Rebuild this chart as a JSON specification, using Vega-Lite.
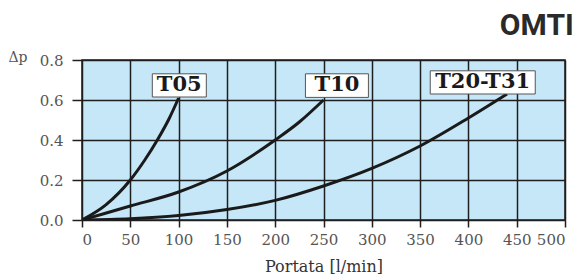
{
  "$schema": "https://vega.github.io/schema/vega-lite/v6.json",
  "width": 483,
  "height": 160,
  "autosize": {"type": "none"},
  "padding": {"left": 82, "top": 60, "right": 19, "bottom": 55},
  "background": "white",
  "title": {
    "text": "OMTI",
    "anchor": "end",
    "orient": "top",
    "font": "Roboto",
    "fontSize": 30,
    "fontWeight": "bold",
    "color": "#2a2a2a",
    "dx": 8,
    "offset": 9
  },
  "config": {
    "view": {"fill": "#c6e7f7", "stroke": "#1e1e1e", "strokeWidth": 1.5},
    "axis": {
      "gridColor": "#1e1e1e",
      "gridWidth": 1.5,
      "gridOpacity": 1,
      "domainColor": "#1e1e1e",
      "domainWidth": 1.5,
      "tickColor": "#1e1e1e",
      "tickWidth": 1.5,
      "labelFont": "DejaVu Serif",
      "labelFontSize": 15,
      "labelColor": "#555555",
      "titleFont": "DejaVu Serif",
      "titleFontWeight": "normal",
      "titleColor": "#333333"
    }
  },
  "datasets": {
    "curves": [
      {"series": "T05", "q": 0, "dp": 0},
      {"series": "T05", "q": 25, "dp": 0.077},
      {"series": "T05", "q": 50, "dp": 0.2},
      {"series": "T05", "q": 65, "dp": 0.3},
      {"series": "T05", "q": 78, "dp": 0.4},
      {"series": "T05", "q": 90, "dp": 0.505},
      {"series": "T05", "q": 100, "dp": 0.61},
      {"series": "T10", "q": 0, "dp": 0},
      {"series": "T10", "q": 50, "dp": 0.07},
      {"series": "T10", "q": 100, "dp": 0.14},
      {"series": "T10", "q": 150, "dp": 0.245},
      {"series": "T10", "q": 200, "dp": 0.4},
      {"series": "T10", "q": 225, "dp": 0.49},
      {"series": "T10", "q": 250, "dp": 0.6},
      {"series": "T20-T31", "q": 0, "dp": 0},
      {"series": "T20-T31", "q": 50, "dp": 0.006},
      {"series": "T20-T31", "q": 100, "dp": 0.022},
      {"series": "T20-T31", "q": 150, "dp": 0.052},
      {"series": "T20-T31", "q": 200, "dp": 0.098},
      {"series": "T20-T31", "q": 250, "dp": 0.17},
      {"series": "T20-T31", "q": 300, "dp": 0.258},
      {"series": "T20-T31", "q": 350, "dp": 0.37},
      {"series": "T20-T31", "q": 400, "dp": 0.51},
      {"series": "T20-T31", "q": 440, "dp": 0.63}
    ],
    "labels": [
      {"label": "T05", "lx": 100.7, "ly": 0.673, "x1": 72.8, "x2": 128.7, "y1": 0.615, "y2": 0.731},
      {"label": "T10", "lx": 263.9, "ly": 0.673, "x1": 231.3, "x2": 296.5, "y1": 0.613, "y2": 0.731},
      {"label": "T20-T31", "lx": 414.8, "ly": 0.688, "x1": 360.5, "x2": 469.2, "y1": 0.63, "y2": 0.746}
    ]
  },
  "layer": [
    {
      "data": {"name": "curves"},
      "mark": {"type": "line", "interpolate": "monotone", "color": "#1a1a1a", "strokeWidth": 3, "clip": true},
      "encoding": {
        "x": {
          "field": "q",
          "type": "quantitative",
          "scale": {"domain": [0, 500], "nice": false, "zero": true},
          "axis": {
            "values": [0, 50, 100, 150, 200, 250, 300, 350, 400, 450, 500],
            "tickCount": 20,
            "title": "Portata [l/min]",
            "titleFontSize": 16,
            "titlePadding": 11,
            "tickSize": 7,
            "labelPadding": 5,
            "domain": false
          }
        },
        "y": {
          "field": "dp",
          "type": "quantitative",
          "scale": {"domain": [0, 0.8], "nice": false},
          "axis": {
            "values": [0, 0.2, 0.4, 0.6, 0.8],
            "tickCount": 10,
            "format": ".1f",
            "title": "Δp",
            "titleAngle": 0,
            "titleFontSize": 14,
            "titleColor": "#555555",
            "titleAlign": "left",
            "titleBaseline": "middle",
            "titleX": -74,
            "titleY": -3,
            "tickSize": 10,
            "labelPadding": 9,
            "domain": false
          }
        },
        "detail": {"field": "series"}
      }
    },
    {
      "data": {"name": "labels"},
      "mark": {"type": "rect", "fill": "white", "stroke": "#555555", "strokeWidth": 1},
      "encoding": {
        "x": {"field": "x1", "type": "quantitative"},
        "x2": {"field": "x2"},
        "y": {"field": "y1", "type": "quantitative"},
        "y2": {"field": "y2"}
      }
    },
    {
      "data": {"name": "labels"},
      "mark": {"type": "text", "font": "DejaVu Serif", "fontSize": 21, "fontWeight": "bold", "color": "#1a1a1a", "align": "center", "baseline": "middle"},
      "encoding": {
        "x": {"field": "lx", "type": "quantitative"},
        "y": {"field": "ly", "type": "quantitative"},
        "text": {"field": "label"}
      }
    }
  ]
}
